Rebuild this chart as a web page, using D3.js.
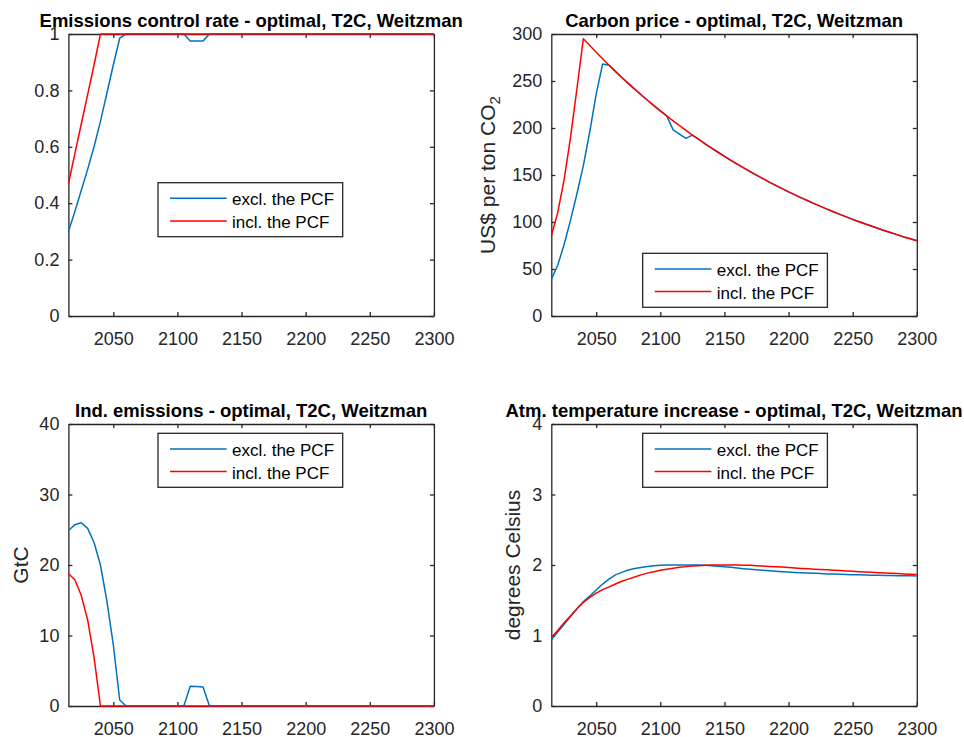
<!DOCTYPE html>
<html>
<head>
<meta charset="utf-8">
<script src="https://cdn.jsdelivr.net/npm/d3@7"></script>
<style>
body { margin: 0; background: #fff; }
svg { display: block; font-family: "Liberation Sans", Arial, Helvetica, sans-serif; }
</style>
</head>
<body>
<svg width="964" height="737"></svg>
<script>
// time steps of the model (5 years)
var years = d3.range(2015, 2301, 5);
var seriesNames = ['excl. the PCF', 'incl. the PCF'];
var seriesColors = ['#0072BD', '#FF0000'];
var xTicks = [2050, 2100, 2150, 2200, 2250, 2300];

// Emissions control rate
var controlExcl = [
	0.30, 0.37, 0.445, 0.52, 0.60, 0.69, 0.79, 0.89, 0.985, 1,
	1, 1, 1, 1, 1, 1, 1, 1, 1, 0.975,
	0.975, 0.975, 1, 1, 1, 1, 1, 1, 1, 1,
	1, 1, 1, 1, 1, 1, 1, 1, 1, 1,
	1, 1, 1, 1, 1, 1, 1, 1, 1, 1,
	1, 1, 1, 1, 1, 1, 1, 1
];
var controlIncl = [
	0.468, 0.575, 0.68, 0.785, 0.89, 1, 1, 1, 1, 1,
	1, 1, 1, 1, 1, 1, 1, 1, 1, 1,
	1, 1, 1, 1, 1, 1, 1, 1, 1, 1,
	1, 1, 1, 1, 1, 1, 1, 1, 1, 1,
	1, 1, 1, 1, 1, 1, 1, 1, 1, 1,
	1, 1, 1, 1, 1, 1, 1, 1
];

// Carbon price, US$ per ton CO2
var priceExcl = [
	39, 54, 76, 102, 130, 160, 196, 236, 268, 266.8,
	260.2, 253.8, 247.5, 241.3, 235.4, 229.5, 223.8, 218.3, 212.9, 198,
	193.5, 189, 192.5, 187.8, 183.1, 178.6, 174.2, 169.8, 165.6, 161.5,
	157.5, 153.6, 149.8, 146.1, 142.5, 138.9, 135.5, 132.1, 128.9, 125.7,
	122.6, 119.5, 116.6, 113.7, 110.9, 108.1, 105.4, 102.8, 100.3, 97.8,
	95.4, 93.0, 90.7, 88.5, 86.3, 84.1, 82.1, 80.0
];
var priceIncl = [
	85, 110, 145, 190, 242, 295, 287.7, 280.6, 273.6, 266.8,
	260.2, 253.8, 247.5, 241.3, 235.4, 229.5, 223.8, 218.3, 212.9, 207.6,
	202.5, 197.4, 192.5, 187.8, 183.1, 178.6, 174.2, 169.8, 165.6, 161.5,
	157.5, 153.6, 149.8, 146.1, 142.5, 138.9, 135.5, 132.1, 128.9, 125.7,
	122.6, 119.5, 116.6, 113.7, 110.9, 108.1, 105.4, 102.8, 100.3, 97.8,
	95.4, 93.0, 90.7, 88.5, 86.3, 84.1, 82.1, 80.0
];

// Industrial emissions, GtC
var emisExcl = [
	24.9, 25.7, 26.0, 25.2, 23.2, 20.0, 14.9, 8.7, 0.85, 0,
	0, 0, 0, 0, 0, 0, 0, 0, 0, 2.8,
	2.75, 2.7, 0, 0, 0, 0, 0, 0, 0, 0,
	0, 0, 0, 0, 0, 0, 0, 0, 0, 0,
	0, 0, 0, 0, 0, 0, 0, 0, 0, 0,
	0, 0, 0, 0, 0, 0, 0, 0
];
var emisIncl = [
	18.8, 17.9, 15.7, 12.2, 6.9, 0, 0, 0, 0, 0,
	0, 0, 0, 0, 0, 0, 0, 0, 0, 0,
	0, 0, 0, 0, 0, 0, 0, 0, 0, 0,
	0, 0, 0, 0, 0, 0, 0, 0, 0, 0,
	0, 0, 0, 0, 0, 0, 0, 0, 0, 0,
	0, 0, 0, 0, 0, 0, 0, 0
];

// Atmospheric temperature increase, degrees Celsius
var tempExcl = [
	0.94, 1.05, 1.16, 1.27, 1.38, 1.48, 1.56, 1.645, 1.73, 1.80,
	1.86, 1.895, 1.93, 1.95, 1.965, 1.98, 1.99, 1.995, 2.0, 2.0,
	2.0, 2.0, 2.0, 2.0, 1.995, 1.99, 1.983, 1.975, 1.967, 1.958,
	1.948, 1.94, 1.932, 1.925, 1.918, 1.911, 1.905, 1.9, 1.895, 1.89,
	1.886, 1.882, 1.878, 1.874, 1.871, 1.868, 1.865, 1.862, 1.86, 1.858,
	1.856, 1.854, 1.852, 1.85, 1.849, 1.847, 1.846, 1.845
];
var tempIncl = [
	0.97, 1.07, 1.18, 1.28, 1.38, 1.47, 1.54, 1.60, 1.65, 1.69,
	1.73, 1.77, 1.80, 1.83, 1.86, 1.885, 1.905, 1.925, 1.94, 1.955,
	1.967, 1.977, 1.985, 1.991, 1.996, 1.999, 2.0, 2.0, 2.0, 2.0,
	1.998, 1.995, 1.99, 1.985, 1.98, 1.975, 1.97, 1.964, 1.958, 1.952,
	1.946, 1.941, 1.936, 1.931, 1.926, 1.921, 1.916, 1.911, 1.906, 1.901,
	1.896, 1.891, 1.886, 1.882, 1.878, 1.874, 1.87, 1.866
];

var panels = [
	{
		title: 'Emissions control rate - optimal, T2C, Weitzman',
		label: null,
		yMax: 1, yTicks: [0, 0.2, 0.4, 0.6, 0.8, 1],
		series: [controlExcl, controlIncl],
		left: 68.4, top: 34, labelX: 0, legend: [89.6, 148.7]
	},
	{
		title: 'Carbon price - optimal, T2C, Weitzman',
		label: 'US$ per ton CO', sub: '2',
		yMax: 300, yTicks: [0, 50, 100, 150, 200, 250, 300],
		series: [priceExcl, priceIncl],
		left: 551.3, top: 34, labelX: 495, legend: [91.4, 219.3]
	},
	{
		title: 'Ind. emissions - optimal, T2C, Weitzman',
		label: 'GtC',
		yMax: 40, yTicks: [0, 10, 20, 30, 40],
		series: [emisExcl, emisIncl],
		left: 68.4, top: 424, labelX: 28, legend: [89.6, 9.3]
	},
	{
		title: 'Atm. temperature increase - optimal, T2C, Weitzman',
		label: 'degrees Celsius',
		yMax: 4, yTicks: [0, 1, 2, 3, 4],
		series: [tempExcl, tempIncl],
		left: 551.3, top: 424, labelX: 520, legend: [91.4, 9.3]
	}
];

var svg = d3.select('svg'),
	width = 365.5,
	height = 282,
	axisColor = '#262626';

panels.forEach(function(p) {
	var x = d3.scaleLinear().domain([2015, 2300]).range([0, width]),
		y = d3.scaleLinear().domain([0, p.yMax]).range([height, 0]);

	var g = svg.append('g')
		.attr('transform', 'translate(' + p.left + ',' + p.top + ')');

	// box with inward ticks on all four sides
	g.append('g')
		.attr('transform', 'translate(0,' + height + ')')
		.call(d3.axisBottom(x).tickValues(xTicks).tickFormat(d3.format('d'))
			.tickSizeInner(-4).tickSizeOuter(0).tickPadding(16));
	g.append('g')
		.call(d3.axisTop(x).tickValues(xTicks).tickFormat('')
			.tickSizeInner(-4).tickSizeOuter(0));
	g.append('g')
		.call(d3.axisLeft(y).tickValues(p.yTicks).tickFormat(d3.format('~g'))
			.tickSizeInner(-4).tickSizeOuter(0).tickPadding(9));
	g.append('g')
		.attr('transform', 'translate(' + width + ',0)')
		.call(d3.axisRight(y).tickValues(p.yTicks).tickFormat('')
			.tickSizeInner(-4).tickSizeOuter(0));

	g.selectAll('.domain, .tick line')
		.attr('stroke', axisColor)
		.attr('stroke-width', 1.3);
	g.selectAll('.tick text')
		.attr('fill', axisColor)
		.style('font-size', '18px');

	// data lines
	var line = d3.line()
		.x(function(d, i) { return x(years[i]); })
		.y(function(d) { return y(d); });

	p.series.forEach(function(s, k) {
		g.append('path')
			.datum(s)
			.attr('fill', 'none')
			.attr('stroke', seriesColors[k])
			.attr('stroke-width', 1.5)
			.attr('stroke-linejoin', 'round')
			.attr('d', line);
	});

	// title
	g.append('text')
		.attr('x', width / 2)
		.attr('y', -7)
		.attr('text-anchor', 'middle')
		.style('font-size', '18.5px')
		.style('font-weight', 'bold')
		.attr('fill', '#000')
		.text(p.title);

	// y label
	if (p.label) {
		var lab = svg.append('text')
			.attr('transform', 'translate(' + p.labelX + ',' + (p.top + height / 2) + ') rotate(-90)')
			.attr('text-anchor', 'middle')
			.attr('fill', axisColor)
			.style('font-size', '21px')
			.text(p.label);
		if (p.sub) {
			lab.append('tspan')
				.attr('dy', '0.35em')
				.style('font-size', '15px')
				.text(p.sub);
		}
	}

	// legend
	var lg = g.append('g')
		.attr('transform', 'translate(' + p.legend[0] + ',' + p.legend[1] + ')');
	lg.append('rect')
		.attr('width', 184.7)
		.attr('height', 54)
		.attr('fill', '#fff')
		.attr('stroke', axisColor)
		.attr('stroke-width', 1.3);
	seriesNames.forEach(function(name, k) {
		var ry = 15.6 + k * 22.7;
		lg.append('line')
			.attr('x1', 12).attr('x2', 68.7)
			.attr('y1', ry).attr('y2', ry)
			.attr('stroke', seriesColors[k])
			.attr('stroke-width', 1.5);
		lg.append('text')
			.attr('x', 74)
			.attr('y', ry + 7)
			.attr('fill', '#000')
			.style('font-size', '17px')
			.text(name);
	});
});
</script>
</body>
</html>
